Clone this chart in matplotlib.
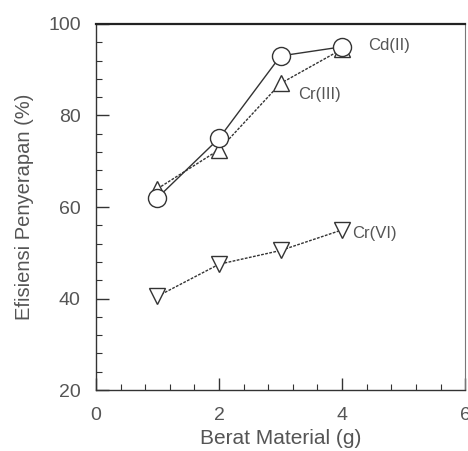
import numpy as np
import matplotlib.pyplot as plt
from matplotlib.ticker import MultipleLocator

# data
berat = [1, 2, 3, 4]
cd2 = [62, 75, 93, 95]
cr3 = [64, 72.5, 87, 94.5]
cr6 = [40.5, 47.5, 50.5, 55]

plt.rcParams['font.family'] = ['Liberation Sans', 'DejaVu Sans']
ink = '#333333'
txt = '#555555'

fig = plt.figure(figsize=(4.68, 4.51), dpi=100)
ax = fig.add_axes([0.205, 0.135, 0.789, 0.812])

ax.plot(berat, cd2, '-', color=ink, lw=1.0, marker='o', ms=13,
        mfc='white', mec=ink, mew=1.0, zorder=3)
ax.plot(berat, cr3, '--', color=ink, lw=1.0, dashes=(2, 1), marker='^', ms=12,
        mfc='white', mec=ink, mew=1.0, zorder=2)
ax.plot(berat, cr6, '--', color=ink, lw=1.0, dashes=(2, 1), marker='v', ms=12,
        mfc='white', mec=ink, mew=1.0, zorder=2)

ax.text(4.42, 95.3, 'Cd(II)', color=txt, fontsize=12, va='center')
ax.text(3.28, 84.5, 'Cr(III)', color=txt, fontsize=12, va='center')
ax.text(4.17, 54.3, 'Cr(VI)', color=txt, fontsize=12, va='center')

ax.set_xlim(0, 6)
ax.set_ylim(20, 100)
ax.set_xticks([0, 2, 4, 6])
ax.set_yticks([20, 40, 60, 80, 100])
ax.xaxis.set_minor_locator(MultipleLocator(0.4))
ax.yaxis.set_minor_locator(MultipleLocator(4))
ax.tick_params(which='major', direction='in', length=9, width=1.0, color=ink,
               labelsize=14, labelcolor=txt)
ax.tick_params(axis='x', which='major', pad=12)
ax.tick_params(axis='y', which='major', pad=11)
ax.tick_params(which='minor', direction='in', length=4, width=0.8, color=ink)

for s in ['left', 'bottom']:
    ax.spines[s].set_color(ink)
    ax.spines[s].set_linewidth(1.0)
ax.spines['top'].set_color('#222222')
ax.spines['top'].set_linewidth(1.6)
ax.spines['right'].set_color('#777777')
ax.spines['right'].set_linewidth(0.8)

ax.set_xlabel('Berat Material (g)', color=txt, fontsize=15, labelpad=4)
ax.set_ylabel('Efisiensi Penyerapan (%)', color=txt, fontsize=14.5, labelpad=10)

plt.savefig('out.png', dpi=100)
